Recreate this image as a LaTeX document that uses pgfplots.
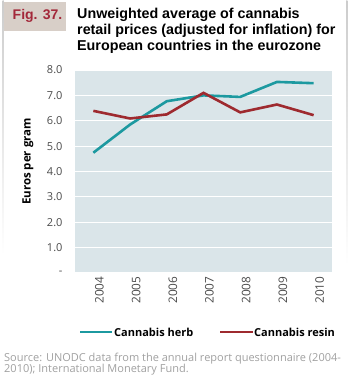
\documentclass[border=0pt]{standalone}
\usepackage{pgfplots}
\pgfplotsset{compat=1.18}
\usepackage{fontspec}
\setmainfont{Open Sans}
\newfontfamily\titlefont{Liberation Sans}
\definecolor{herb}{HTML}{1C99A0}
\definecolor{resin}{HTML}{9E2A2F}
\definecolor{plotbg}{HTML}{DAE5E9}
\definecolor{figbox}{HTML}{D8CFC8}
\definecolor{figred}{HTML}{A3283A}
\definecolor{srcgray}{HTML}{A0A0A0}
\definecolor{tickgray}{HTML}{4A4A4A}
\begin{document}
\begin{tikzpicture}[x=1pt,y=1pt]
\useasboundingbox (0,0) rectangle (350,380);
% faint frame
\shade[top color=gray!40, bottom color=white] (2.6,125) rectangle (3.6,380);
\shade[top color=gray!40, bottom color=white] (346.4,115) rectangle (347.4,380);
% Fig box
\fill[figbox] (4,349) rectangle (66,378);
\node[anchor=base west, inner sep=0pt, text=figred, font=\titlefont\bfseries\fontsize{14}{16}\selectfont] at (12.5,360) {Fig. 37.};
\node[anchor=base west, inner sep=0pt, font=\titlefont\bfseries\fontsize{14.3}{16.3}\selectfont] at (77,361.5) {Unweighted average of cannabis};
\node[anchor=base west, inner sep=0pt, font=\titlefont\bfseries\fontsize{14.3}{16.3}\selectfont] at (77,345.2) {retail prices (adjusted for inflation) for};
\node[anchor=base west, inner sep=0pt, font=\titlefont\bfseries\fontsize{14.3}{16.3}\selectfont] at (77,329) {European countries in the eurozone};
\begin{axis}[
  at={(75pt,107pt)}, anchor=south west,
  width=257pt, height=203pt, scale only axis,
  xmin=-0.5, xmax=6.5, ymin=0, ymax=8,
  axis line style={draw=none},
  axis background/.style={fill=plotbg},
  xtick={0,...,6},
  xticklabels={2004,2005,2006,2007,2008,2009,2010},
  ytick={0,...,8},
  yticklabels={-,1.0,2.0,3.0,4.0,5.0,6.0,7.0,8.0},
  ymajorgrids, grid style={white, line width=1pt},
  major tick length=0pt,
  yticklabel style={font=\fontsize{11}{13}\selectfont, text=tickgray, anchor=east, xshift=-9pt},
  xticklabel style={font=\fontsize{11.8}{13}\selectfont, text=tickgray, rotate=90, anchor=east, xshift=0pt, yshift=-6pt},
  /pgf/number format/assume math mode=true,
  clip=false,
]
\addplot[herb, line width=2.6pt] coordinates {(0,4.74) (1,5.85) (2,6.77) (3,7.0) (4,6.94) (5,7.53) (6,7.48)};
\addplot[resin, line width=2.6pt] coordinates {(0,6.39) (1,6.09) (2,6.25) (3,7.1) (4,6.33) (5,6.64) (6,6.22)};
\end{axis}
\node[rotate=90, font=\bfseries\fontsize{11.5}{13}\selectfont] at (28,218.5) {Euros per gram};
% legend
\draw[herb, line width=2.6pt] (80,48) -- (112,48);
\node[anchor=base west, inner sep=0pt, font=\bfseries\fontsize{11}{13}\selectfont] at (114,43.5) {Cannabis herb};
\draw[resin, line width=2.6pt] (220,48) -- (253,48);
\node[anchor=base west, inner sep=0pt, font=\bfseries\fontsize{11}{13}\selectfont] at (254,43.5) {Cannabis resin};
% source
\node[anchor=base west, inner sep=0pt, text=srcgray, font=\fontsize{11}{11}\selectfont] at (4,18) {Source: UNODC data from the annual report questionnaire (2004-};
\node[anchor=base west, inner sep=0pt, text=srcgray, font=\fontsize{11}{11}\selectfont] at (4,7.5) {2010); International Monetary Fund.};
\end{tikzpicture}
\end{document}
